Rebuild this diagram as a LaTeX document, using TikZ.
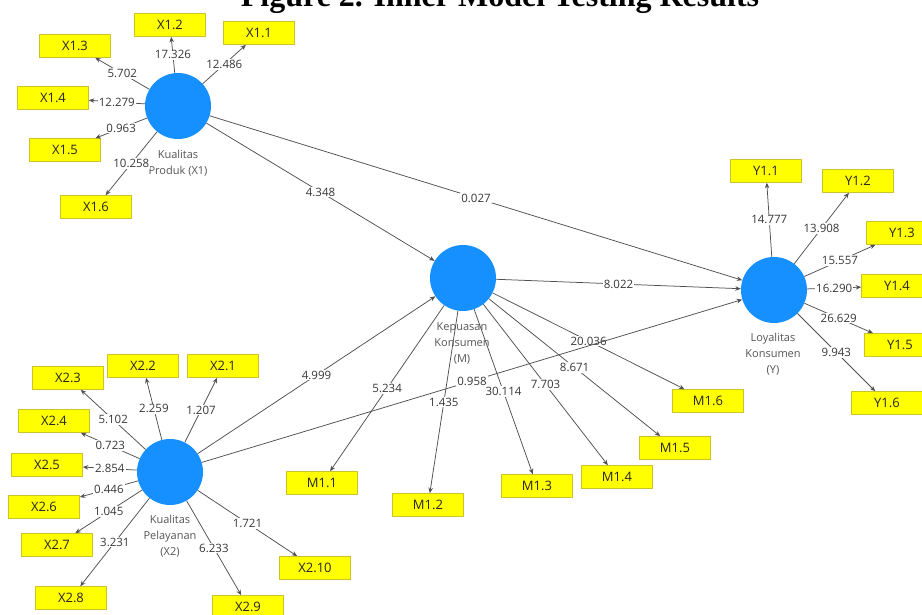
\documentclass[tikz,border=0pt]{standalone}
\usepackage{fontspec}
\setmainfont{Open Sans}
\newfontfamily\titlefont{Liberation Serif}
\usetikzlibrary{arrows.meta}
\definecolor{circblue}{RGB}{22,144,255}
\definecolor{boxyellow}{RGB}{255,255,0}
\definecolor{boxedge}{RGB}{205,195,40}
\definecolor{linegray}{RGB}{80,80,80}
\definecolor{txtgray}{RGB}{55,55,55}
\definecolor{lvgray}{RGB}{85,85,85}
\begin{document}
\begin{tikzpicture}[x=1pt,y=-1pt,
  lv/.style={circle, fill=circblue, minimum size=66pt, inner sep=0pt},
  ind/.style={rectangle, fill=boxyellow, draw=boxedge, line width=0.6pt, minimum width=71pt, minimum height=23pt, inner sep=0pt, font=\fontsize{13}{13}\selectfont, text=black!85},
  lvlabel/.style={align=center, font=\fontsize{11}{16}\selectfont, text=lvgray},
  conn/.style={draw=linegray, line width=0.75pt, -{Stealth[length=5.5pt,width=4.5pt]}},
  coef/.style={fill=white, inner sep=1pt, font=\fontsize{11.5}{11.5}\selectfont, text=txtgray},
]
\clip (0,0) rectangle (922,615);
\fill[white] (0,0) rectangle (922,615);

\node[anchor=base, font=\titlefont\bfseries\fontsize{32}{32}\selectfont] (title) at (500,7) {Figure 2. Inner Model Testing Results};

% latent variables
\node[lv] (X1) at (178,106) {};
\node[lv] (M) at (463,278) {};
\node[lv] (Y) at (774,290) {};
\node[lv] (X2) at (170,472) {};

\node[lvlabel] (X1l) at (178,163) {Kualitas\\Produk (X1)};
\node[lvlabel] (Ml) at (462,343) {Kepuasan\\Konsumen\\(M)};
\node[lvlabel] (Yl) at (773,354) {Loyalitas\\Konsumen\\(Y)};
\node[lvlabel] (X2l) at (170,536) {Kualitas\\Pelayanan\\(X2)};

% indicators X1
\node[ind] (x11) at (259,33) {X1.1};
\node[ind] (x12) at (170,25) {X1.2};
\node[ind] (x13) at (75,46) {X1.3};
\node[ind] (x14) at (53,98) {X1.4};
\node[ind] (x15) at (65,150) {X1.5};
\node[ind] (x16) at (96,207) {X1.6};
% indicators Y
\node[ind] (y11) at (766,171) {Y1.1};
\node[ind] (y12) at (858,181) {Y1.2};
\node[ind] (y13) at (902,233) {Y1.3};
\node[ind] (y14) at (897,286) {Y1.4};
\node[ind] (y15) at (900,345) {Y1.5};
\node[ind] (y16) at (887,403) {Y1.6};
% indicators M
\node[ind] (m11) at (322,483) {M1.1};
\node[ind] (m12) at (428,505) {M1.2};
\node[ind] (m13) at (537,486) {M1.3};
\node[ind] (m14) at (617,477) {M1.4};
\node[ind] (m15) at (675,448) {M1.5};
\node[ind] (m16) at (708,401) {M1.6};
% indicators X2
\node[ind] (x21) at (223,366) {X2.1};
\node[ind] (x22) at (143,366) {X2.2};
\node[ind] (x23) at (68,378) {X2.3};
\node[ind] (x24) at (54,421) {X2.4};
\node[ind] (x25) at (47,465) {X2.5};
\node[ind] (x26) at (44,507) {X2.6};
\node[ind] (x27) at (57,545) {X2.7};
\node[ind] (x28) at (71,598) {X2.8};
\node[ind] (x29) at (248,607) {X2.9};
\node[ind] (x210) at (315,568) {X2.10};

% outer loadings
\draw[conn] (X1) -- node[coef]{12.486} (x11);
\draw[conn] (X1) -- node[coef]{17.326} (x12);
\draw[conn] (X1) -- node[coef]{5.702} (x13);
\draw[conn] (X1) -- node[coef]{12.279} (x14);
\draw[conn] (X1) -- node[coef]{0.963} (x15);
\draw[conn] (X1) -- node[coef]{10.258} (x16);

\draw[conn] (Y) -- node[coef]{14.777} (y11);
\draw[conn] (Y) -- node[coef]{13.908} (y12);
\draw[conn] (Y) -- node[coef]{15.557} (y13);
\draw[conn] (Y) -- node[coef]{16.290} (y14);
\draw[conn] (Y) -- node[coef]{26.629} (y15);
\draw[conn] (Y) -- node[coef]{9.943} (y16);

\draw[conn] (M) -- node[coef]{5.234} (m11);
\draw[conn] (M) -- node[coef]{1.435} (m12);
\draw[conn] (M) -- node[coef]{30.114} (m13);
\draw[conn] (M) -- node[coef]{7.703} (m14);
\draw[conn] (M) -- node[coef]{8.671} (m15);
\draw[conn] (M) -- node[coef]{20.036} (m16);

\draw[conn] (X2) -- node[coef]{1.207} (x21);
\draw[conn] (X2) -- node[coef]{2.259} (x22);
\draw[conn] (X2) -- node[coef]{5.102} (x23);
\draw[conn] (X2) -- node[coef]{0.723} (x24);
\draw[conn] (X2) -- node[coef]{2.854} (x25);
\draw[conn] (X2) -- node[coef]{0.446} (x26);
\draw[conn] (X2) -- node[coef]{1.045} (x27);
\draw[conn] (X2) -- node[coef]{3.231} (x28);
\draw[conn] (X2) -- node[coef]{6.233} (x29);
\draw[conn] (X2) -- node[coef]{1.721} (x210);

% inner model
\draw[conn] (X1) -- node[coef]{4.348} (M);
\draw[conn] (X1) -- node[coef]{0.027} (Y);
\draw[conn] (M) -- node[coef]{8.022} (Y);
\draw[conn] (X2) -- node[coef]{4.999} (M);
\draw[conn] (X2) -- node[coef]{0.958} (Y);
\end{tikzpicture}
\end{document}
